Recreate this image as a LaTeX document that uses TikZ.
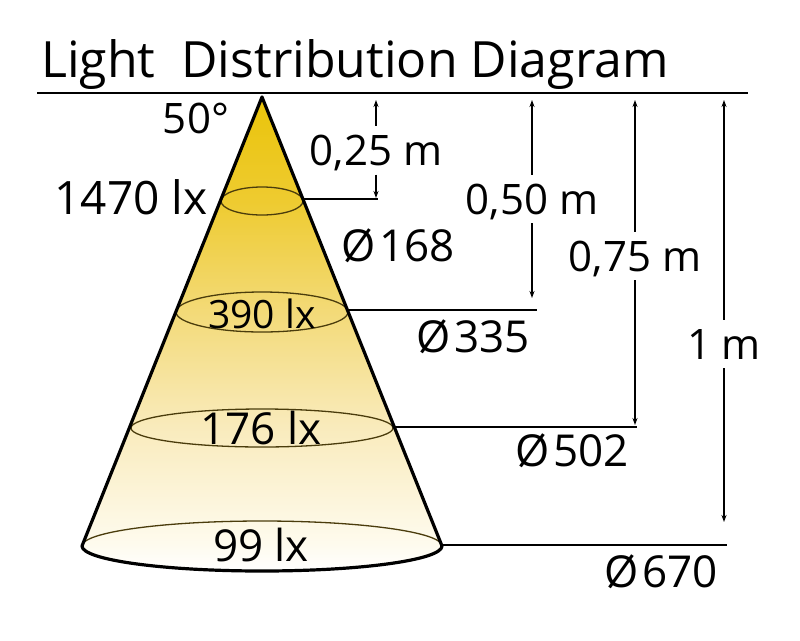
\documentclass[tikz,border=0pt]{standalone}
\usepackage{fontspec}
\setmainfont{Open Sans}
\usetikzlibrary{arrows.meta,calc}
\definecolor{c0}{HTML}{FFFFFF}
\definecolor{c1}{HTML}{FEFBEE}
\definecolor{c2}{HTML}{F9EBBC}
\definecolor{c3}{HTML}{F3DA78}
\definecolor{c4}{HTML}{EECB30}
\definecolor{c5}{HTML}{EAC40A}
\definecolor{rimcol}{HTML}{4A3C0C}
\pgfdeclareverticalshading{conefill}{100bp}{color(0bp)=(c0); color(25bp)=(c0); color(27.8bp)=(c1); color(40.2bp)=(c2); color(52.3bp)=(c3); color(64bp)=(c4); color(75bp)=(c5); color(100bp)=(c5)}
\newcommand{\dia}{Ø\hspace{4pt}}
\begin{document}
\begin{tikzpicture}[x=1pt,y=-1pt,
  lbl/.style={font=\fontsize{42}{42}\selectfont, inner sep=0pt, text height=30pt, text depth=0pt},
  biglbl/.style={lbl, font=\fontsize{44}{44}\selectfont, text height=31.5pt},
  dimlbl/.style={lbl, inner xsep=2pt, inner ysep=9pt},
  dimline/.style={line width=1.4pt},
  leader/.style={line width=1.5pt},
  rim/.style={draw=rimcol, line width=1.3pt},
  edge/.style={line width=3.2pt, line cap=round, line join=round},
  tipA/.style={-{Stealth[length=7pt,width=5pt]}},
  tipB/.style={{Stealth[length=7pt,width=5pt]}-}
]
\useasboundingbox (0,0) rectangle (800,640);
% title
\node[anchor=base west, inner sep=0pt, font=\fontsize{50}{50}\selectfont] (title) at (41,77) {Light\ \ Distribution Diagram};
\coordinate (ul) at (37,93);
\coordinate (ur) at (748,93);
\draw[line width=2.4pt] (ul) -- (ur);
% cone geometry
\coordinate (apex) at (262,97);
\coordinate (bl) at (82,546);
\coordinate (br) at (442,546);
\coordinate (bc) at (262,546);
\shade[shading=conefill] (apex) -- (bl) arc[start angle=180, end angle=360, x radius=180pt, y radius=25pt] -- cycle;
% inner ellipses
\draw[rim] (262,201) ellipse[x radius=41pt, y radius=14pt];
\draw[rim] (262,312) ellipse[x radius=86pt, y radius=20pt];
\draw[rim] (262,428) ellipse[x radius=131pt, y radius=19pt];
\draw[rim] (br) arc[start angle=0, end angle=180, x radius=180pt, y radius=25pt];
% cone outline
\draw[edge] (bl) -- (apex) -- (br);
\draw[edge] (bl) arc[start angle=180, end angle=360, x radius=180pt, y radius=25pt];
% labels inside / beside
\node[lbl] (a50) at (196,118) {50°};
\node[biglbl, font=\fontsize{46}{46}\selectfont] (lx1470) at (131,199) {1470 lx};
\node[lbl, font=\fontsize{39}{39}\selectfont, text height=28pt] (lx390) at (262,314) {390 lx};
\node[biglbl] (lx176) at (261,429) {176 lx};
\node[biglbl] (lx99) at (261,546) {99 lx};
% diameters
\node[biglbl] (d168) at (398,246) {\dia168};
\node[biglbl] (d335) at (473,337) {\dia335};
\node[biglbl] (d502) at (572,451) {\dia502};
\node[biglbl] (d670) at (661,572) {\dia670};
% leader lines
\coordinate (e1) at (304,199); \coordinate (f1) at (378,199);
\coordinate (e2) at (349,310); \coordinate (f2) at (537,310);
\coordinate (e3) at (395,427); \coordinate (f3) at (637,427);
\coordinate (e4) at (442,545); \coordinate (f4) at (727,545);
\draw[leader] (e1) -- (f1);
\draw[leader] (e2) -- (f2);
\draw[leader] (e3) -- (f3);
\draw[leader] (e4) -- (f4);
% dimension lines
\node[dimlbl] (h25) at (376,150.5) {0,25 m};
\node[dimlbl] (h50) at (532,199) {0,50 m};
\node[dimlbl] (h75) at (635,256) {0,75 m};
\node[dimlbl] (h100) at (724,344) {1 m};
\coordinate (t1) at (376,100); \coordinate (s1) at (376,198);
\coordinate (t2) at (532,100); \coordinate (s2) at (532,298);
\coordinate (t3) at (635,100); \coordinate (s3) at (635,425);
\coordinate (t4) at (724,100); \coordinate (s4) at (724,522);
\draw[dimline,tipB] (t1) -- (h25.north);
\draw[dimline,tipA] (h25.south) -- (s1);
\draw[dimline,tipB] (t2) -- (h50.north);
\draw[dimline,tipA] (h50.south) -- (s2);
\draw[dimline,tipB] (t3) -- (h75.north);
\draw[dimline,tipA] (h75.south) -- (s3);
\draw[dimline,tipB] (t4) -- (h100.north);
\draw[dimline,tipA] (h100.south) -- (s4);
\end{tikzpicture}
\end{document}
